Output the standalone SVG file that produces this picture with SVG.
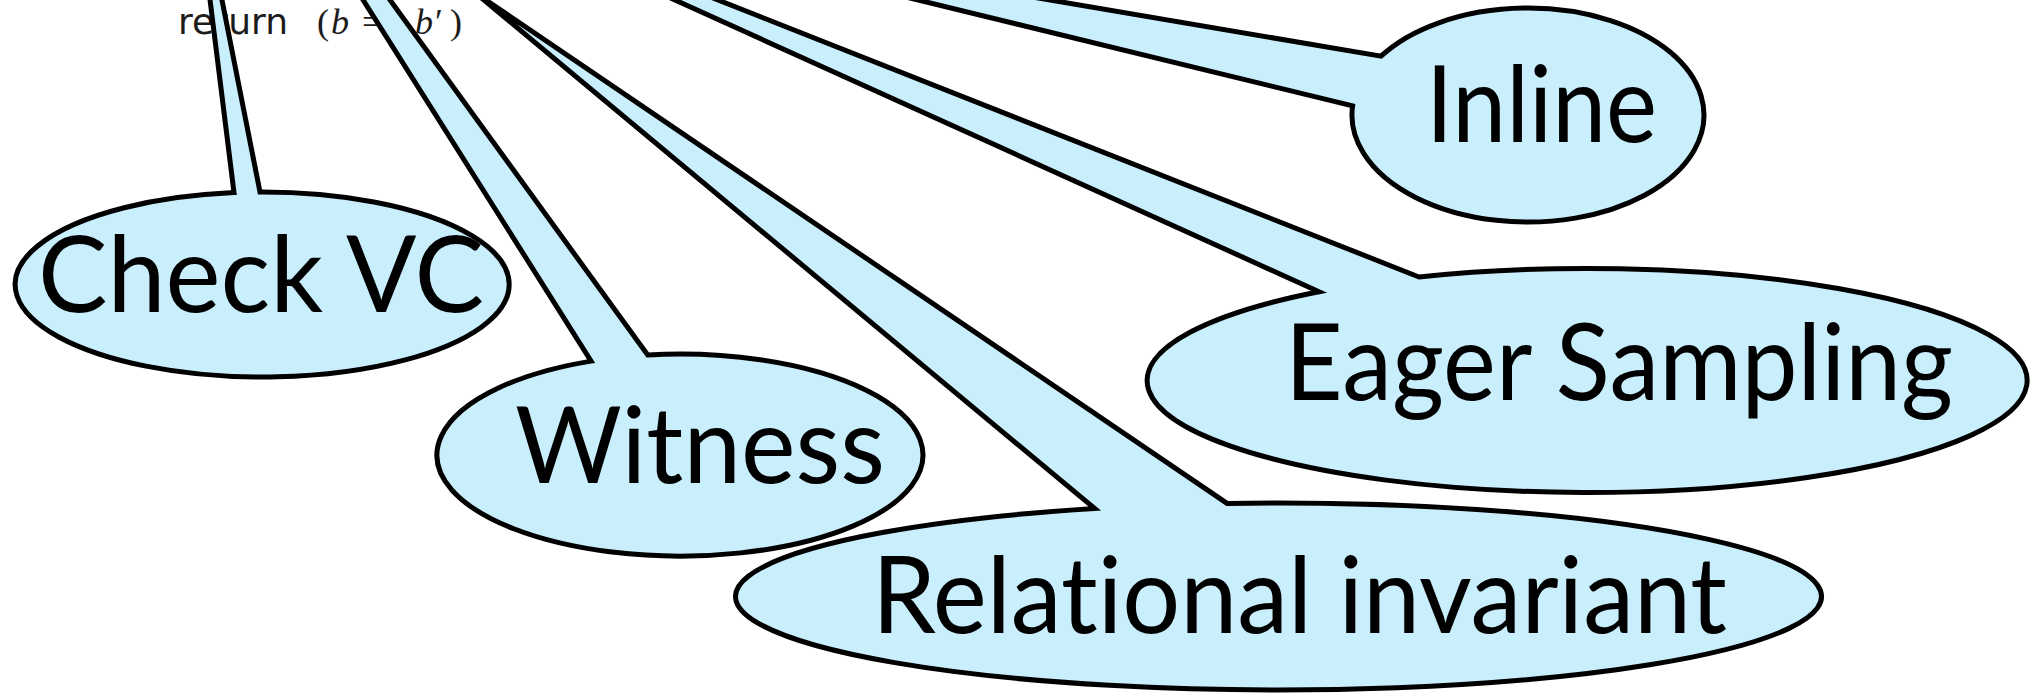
<svg xmlns="http://www.w3.org/2000/svg" width="2036" height="694" viewBox="0 0 2036 694">
<style>
.bubble{fill:#C9EEFC;stroke:#000;stroke-width:5;stroke-linejoin:miter}
.lbl{font-family:Lato,"Open Sans","DejaVu Sans",sans-serif;font-size:107px;fill:#000;font-variant-ligatures:none;font-feature-settings:"liga" 0}
.code{font-family:"DejaVu Sans","Liberation Sans",sans-serif;font-size:36px;fill:#1c1c1c}
.math{font-family:"Liberation Serif",serif;font-size:36px;fill:#1c1c1c}
</style>
<rect width="2036" height="694" fill="#fff"/>
<g id="code">
<text class="code" x="178" y="34">return</text>
<text class="math" x="317" y="34">(</text>
<text class="math" x="331" y="34" font-style="italic">b</text>
<text class="math" x="362" y="34">=</text>
<text class="math" x="415" y="34" font-style="italic">b</text>
<text class="math" x="435" y="34">′</text>
<text class="math" x="450" y="34">)</text>
</g>
<g id="check-vc">
<path class="bubble" d="M 208.8,-10 L 234,192.6 A 247 92.5 0 1 0 260,192 L 220,-10 Z"/>
<text class="lbl" x="38" y="312" textLength="446" lengthAdjust="spacingAndGlyphs">Check VC</text>
</g>
<g id="witness">
<path class="bubble" d="M 356.8,-10 L 591.1,361.1 A 243 101 0 1 0 647.7,355 L 382.8,-10 Z"/>
<text class="lbl" x="515" y="483" textLength="370" lengthAdjust="spacingAndGlyphs">Witness</text>
</g>
<g id="relational-invariant">
<path class="bubble" d="M 475,-7.4 L 1094.7,508.5 A 543 93.5 0 1 0 1227.1,503.4 Z"/>
<text class="lbl" x="872" y="633" textLength="855" lengthAdjust="spacingAndGlyphs">Relational invariant</text>
</g>
<g id="eager-sampling">
<path class="bubble" d="M 652.9,-10 L 1319,291.7 A 440 112 0 1 0 1419,277 L 692.7,-10 Z"/>
<text class="lbl" x="1285" y="400" textLength="668" lengthAdjust="spacingAndGlyphs">Eager Sampling</text>
</g>
<g id="inline">
<path class="bubble" d="M 877,-10 L 1352.6,105.9 A 176 107 0 1 0 1381,56.2 L 991,-10 Z"/>
<text class="lbl" x="1426" y="142" textLength="231" lengthAdjust="spacingAndGlyphs">Inline</text>
</g>
</svg>
